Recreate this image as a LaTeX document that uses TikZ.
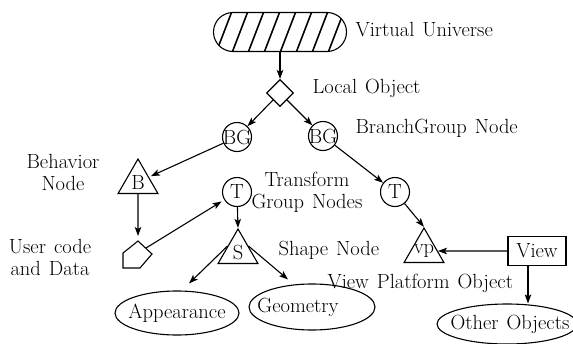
\documentclass[tikz,border=0pt]{standalone}
\usetikzlibrary{shapes.geometric,shapes.misc,arrows.meta,calc}
\newcommand\diagfont{\fontsize{20.5}{22}\selectfont\spaceskip=8pt plus 2pt\relax}
\begin{document}
\begin{tikzpicture}[x=1pt,y=-1pt,
  every node/.style={font=\diagfont},
  line width=1.1pt,
  arr/.style={-{Stealth[length=9pt,width=6.5pt,inset=2pt]}},
  circ/.style={draw,circle,minimum size=29pt,inner sep=-5pt},
  tri/.style={draw,regular polygon,regular polygon sides=3,minimum size=46pt,inner sep=-4pt},
  ell/.style={draw,ellipse,inner sep=0pt},
  lbl/.style={inner sep=0pt,anchor=west},
]
\useasboundingbox (0,0) rectangle (573,343);
% Virtual universe
\node[draw,rounded rectangle,minimum width=133pt,minimum height=39pt,inner sep=0pt,
  path picture={\foreach \k in {0,...,8}
    \draw[line width=1.6pt] ([xshift=\k*16pt+3pt]path picture bounding box.south west) -- ++(15pt,39pt);}]
  (vu) at (280,32) {};
\node[lbl] (vul) at (355,30) {Virtual Universe};
% local object
\node[draw,diamond,minimum size=27pt,inner sep=0pt] (lo) at (280,93) {};
\node[lbl] (lol) at (312,88) {Local Object};
% branch groups
\node[circ] (bg1) at (237,137) {BG};
\node[circ] (bg2) at (323,136) {BG};
\node[lbl] (bgl) at (355,128) {BranchGroup Node};
% behavior
\node[tri] (b) at (138,182) {B};
\node[align=center,inner sep=0pt] (bl) at (63,172) {Behavior\\Node};
% user code
\coordinate (uctop) at (138,241);
\coordinate (ucr) at (146,248);
\draw (uctop) -- (152,254) -- (140,268) -- (123,268) -- (123,253) -- cycle;
\node[align=center,inner sep=0pt] (ucl) at (50,257) {User code\\and Data};
% transform groups
\node[circ] (t1) at (237,192) {T};
\node[circ] (t2) at (395,192) {T};
\node[align=center,inner sep=0pt] (tl) at (307,192) {Transform\\Group Nodes};
% shape
\node[tri] (s) at (238,252) {S};
\node[lbl] (sl) at (278,250) {Shape Node};
\node[ell,minimum width=124pt,minimum height=44pt,label={center:Appearance}] (app) at (177,313) {};
\node[ell,minimum width=126pt,minimum height=46pt,label={[xshift=-14pt]center:Geometry}] (geo) at (312,307) {};
% view platform
\node[tri] (vp) at (424,251) {vp};
\node[lbl] (vpl) at (327,283) {View Platform Object};
\node[draw,minimum width=58pt,minimum height=29pt,inner sep=1pt] (view) at (537,251) {View};
\node[ell,minimum width=140pt,minimum height=40pt,label={[xshift=3pt]center:Other Objects}] (oth) at (507,324) {};
% connectors
\draw[arr] (vu.south) -- (lo.north);
\draw[arr] (lo.south west) -- (bg1);
\draw[arr] (lo.south east) -- (bg2);
\draw[arr,shorten >=2pt] (bg1) -- (b);
\draw[arr,shorten >=5pt] (b.south) -- (uctop);
\draw[arr,shorten >=3pt] (ucr) -- (t1);
\draw[arr] (t1) -- (s.corner 1);
\draw[arr] ($(s.corner 1)!0.5!(s.corner 2)$) -- ([shift={(12,-7)}]app.north);
\draw[arr] ($(s.corner 1)!0.5!(s.corner 3)$) -- ([shift={(-24,-4)}]geo.north);
\draw[arr] (bg2) -- (t2);
\draw[arr] (t2) -- (vp.corner 1);
\draw[arr] (view.west) -- (vp.east);
\draw[arr] ([xshift=-9pt]view.south) -- ([xshift=-9pt]view.south |- oth.north);
\end{tikzpicture}
\end{document}
